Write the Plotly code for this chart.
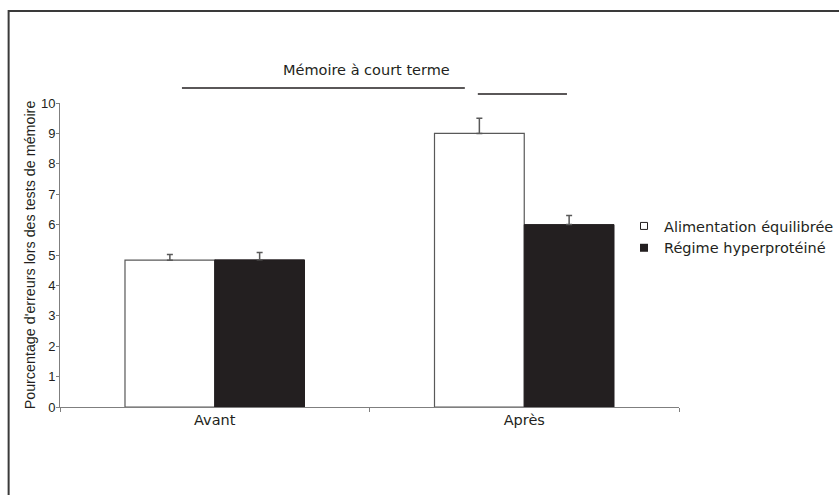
import plotly.graph_objects as go

# Data
periods = ["Avant", "Après"]
series_names = ["Alimentation équilibrée", "Régime hyperprotéiné"]
equilibree = [4.83, 9.0]
equilibree_err = [0.19, 0.5]
hyperproteine = [4.84, 6.0]
hyperproteine_err = [0.24, 0.3]
y_ticks = list(range(0, 11))

INK = "#231f20"
AXIS = "#7f7f7f"
FONT = "Liberation Sans, Arial, sans-serif"
WIDE = "DejaVu Sans, Liberation Sans, sans-serif"

fig = go.Figure()

fig.add_trace(go.Bar(
    x=periods, y=equilibree, name=series_names[0], showlegend=False,
    marker=dict(color="white", line=dict(color="#595959", width=1.2)),
    error_y=dict(type="data", array=equilibree_err, arrayminus=[0, 0],
                 symmetric=False, color="#595959", thickness=1.5, width=3),
))
fig.add_trace(go.Bar(
    x=periods, y=hyperproteine, name=series_names[1], showlegend=False,
    marker=dict(color=INK, line=dict(color=INK, width=1)),
    error_y=dict(type="data", array=hyperproteine_err, arrayminus=[0, 0],
                 symmetric=False, color="#595959", thickness=1.5, width=3),
))

# Small square legend keys
fig.add_trace(go.Scatter(
    x=[None], y=[None], mode="markers", name=series_names[0],
    marker=dict(symbol="square", size=7, color="white",
                line=dict(color=INK, width=1)),
))
fig.add_trace(go.Scatter(
    x=[None], y=[None], mode="markers", name=series_names[1],
    marker=dict(symbol="square", size=8, color=INK,
                line=dict(color=INK, width=0)),
))

# Outer frame
fig.add_shape(type="rect", xref="paper", yref="paper",
              x0=-0.083, x1=1.4, y0=-0.5, y1=1.303,
              line=dict(color="#3a3a3a", width=2), fillcolor="rgba(0,0,0,0)",
              layer="below")
# Heading underlines
fig.add_shape(type="line", xref="paper", yref="paper",
              x0=0.197, x1=0.654, y0=1.049, y1=1.049,
              line=dict(color=INK, width=1.5))
fig.add_shape(type="line", xref="paper", yref="paper",
              x0=0.675, x1=0.819, y0=1.030, y1=1.030,
              line=dict(color=INK, width=1.5))

fig.add_annotation(text="Mémoire à court terme", xref="paper", yref="paper",
                   x=0.495, y=1.109, yanchor="middle", showarrow=False,
                   font=dict(size=14.5, color=INK, family=WIDE))

fig.update_layout(
    width=839, height=495,
    margin=dict(l=60, r=160, t=103, b=88, autoexpand=False),
    paper_bgcolor="white", plot_bgcolor="white",
    font=dict(family=FONT, color=INK, size=12),
    barmode="group", bargap=0.42, bargroupgap=0,
    legend=dict(xref="container", yref="container",
                x=624 / 839, y=1 - 237 / 495, xanchor="left", yanchor="middle",
                font=dict(size=14.5, color=INK, family=WIDE),
                itemwidth=30, tracegroupgap=0, bgcolor="rgba(0,0,0,0)"),
    showlegend=True,
)
fig.update_xaxes(
    showline=True, linecolor=AXIS, linewidth=1,
    ticks="outside", ticklen=4, tickcolor=AXIS, tickson="boundaries",
    showgrid=False, zeroline=False, automargin=False,
    tickfont=dict(size=14.5, color=INK, family=WIDE),
)
fig.update_yaxes(
    range=[0, 10], tickvals=y_ticks,
    showline=True, linecolor=AXIS, linewidth=1,
    ticks="outside", ticklen=3, tickcolor=AXIS, ticklabelstandoff=-2,
    showgrid=False, zeroline=False, automargin=False,
    tickfont=dict(size=13, color=INK, family=FONT),
    title=dict(text="Pourcentage d'erreurs lors des tests de mémoire",
               font=dict(size=14.3, color=INK, family=FONT), standoff=1),
)

fig.write_html("out.html")
